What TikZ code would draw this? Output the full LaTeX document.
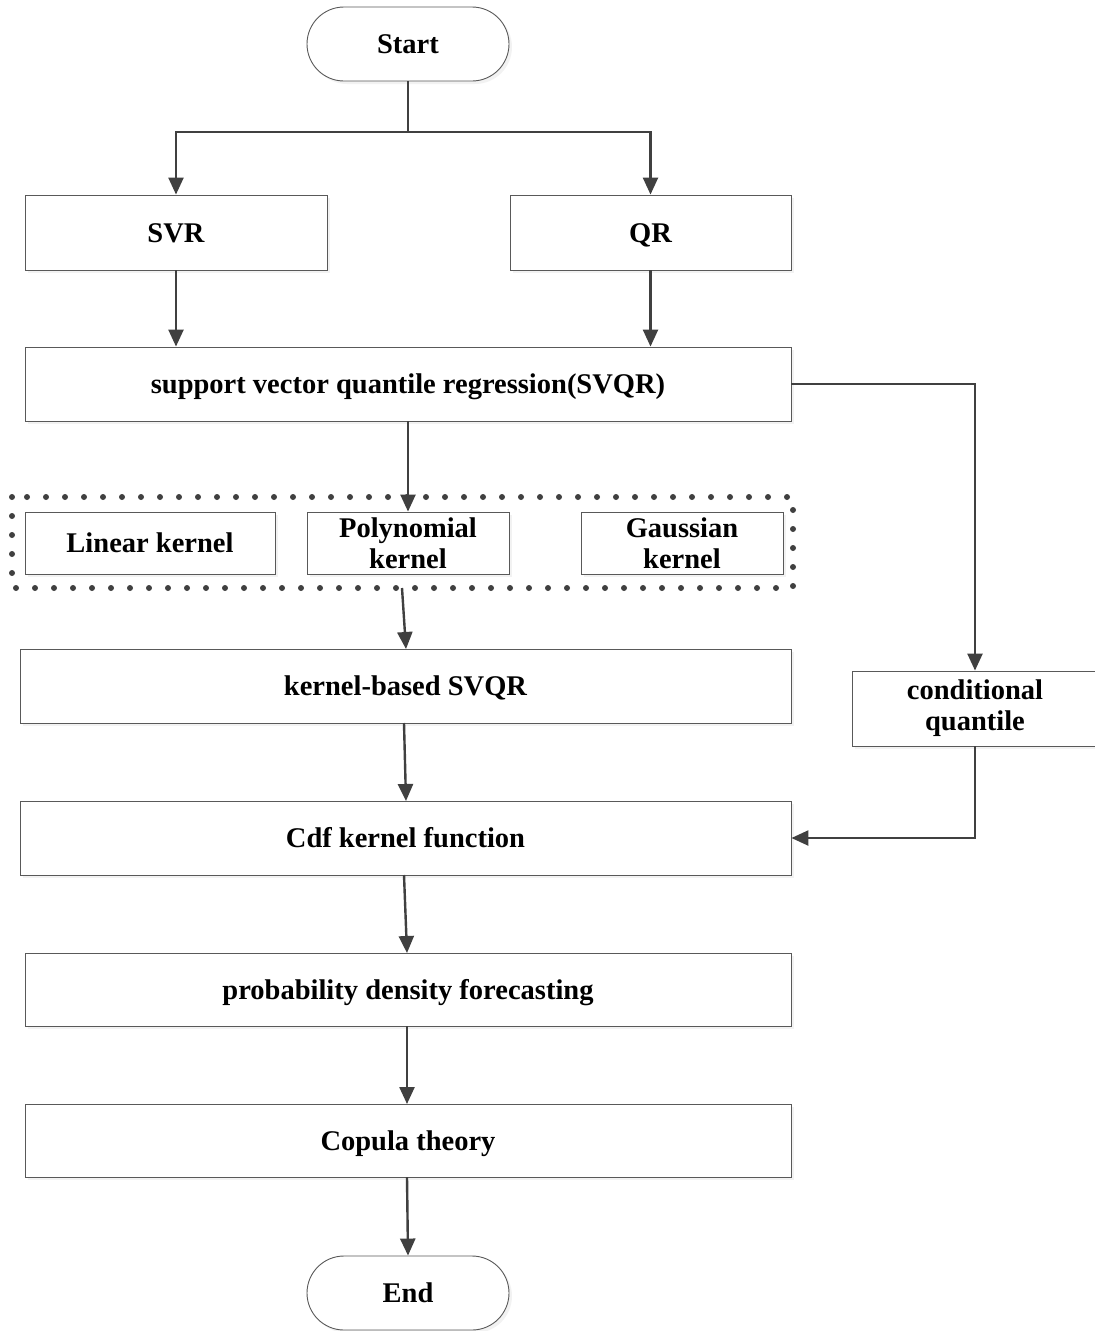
\documentclass[tikz,border=0pt]{standalone}
\usepackage{fontspec}
\setmainfont{Liberation Serif}
\usetikzlibrary{arrows.meta,shadows}
\begin{document}
\begin{tikzpicture}[x=1pt,y=-1pt,
  box/.style={draw=black!65,line width=0.9pt,fill=white,inner sep=0pt,align=center,
    font=\fontsize{28.5}{31}\selectfont\bfseries,
    drop shadow={opacity=0.12,shadow xshift=3pt,shadow yshift=-3pt,fill=black!40}},
  one/.style={text height=19pt,text depth=0pt},
  pill/.style={box,one,rounded corners=37pt},
  conn/.style={draw=black!75,line width=2.4pt},
  arr/.style={conn,-{Triangle[length=17pt,width=15pt]}},
  dotbox/.style={draw=black!75,line width=6pt,line cap=round,dash pattern=on 0pt off 19pt}]
\useasboundingbox (0,0) rectangle (1095,1331);
\fill[white] (0,0) rectangle (1095,1331);
% nodes
\node[pill,minimum width=202pt,minimum height=74pt] (start) at (408,44) {Start};
\node[box,one,minimum width=302pt,minimum height=75pt] (svr) at (176,232.5) {SVR};
\node[box,one,minimum width=281pt,minimum height=75pt] (qr) at (650.5,232.5) {QR};
\node[box,one,minimum width=766pt,minimum height=74pt] (svqr) at (408,384) {support vector quantile regression(SVQR)};
\draw[dotbox] (12,497) rectangle (793,588);
\coordinate (dotbot) at (402,588);
\node[box,one,minimum width=250pt,minimum height=62pt] (lin) at (150,543) {Linear kernel};
\node[box,minimum width=202pt,minimum height=62pt] (poly) at (408,543) {Polynomial\\kernel};
\node[box,minimum width=202pt,minimum height=62pt] (gau) at (682,543) {Gaussian\\kernel};
\node[box,one,minimum width=771pt,minimum height=74pt] (kb) at (405.5,686) {kernel-based SVQR};
\node[box,minimum width=246pt,minimum height=75pt] (cq) at (975,708.5) {conditional\\quantile};
\node[box,one,minimum width=771pt,minimum height=74pt] (cdf) at (405.5,838) {Cdf kernel function};
\node[box,one,minimum width=766pt,minimum height=73pt] (pdf) at (408,989.5) {probability density forecasting};
\node[box,one,minimum width=766pt,minimum height=73pt] (cop) at (408,1140.5) {Copula theory};
\node[pill,minimum width=202pt,minimum height=74pt] (end) at (408,1293) {End};
% connectors
\coordinate (sp) at (408,132);
\draw[conn] (start.south) -- (sp);
\draw[arr] (sp) -| (svr.north);
\draw[arr] (sp) -| (qr.north);
\draw[arr] (svr.south) -- (svr.south |- svqr.north);
\draw[arr] (qr.south) -- (qr.south |- svqr.north);
\draw[arr] (svqr.south) -- (poly.north);
\draw[arr] (svqr.east) -| (cq.north);
\draw[arr] (dotbot) -- (406,649);
\draw[arr] (404,723) -- (406,801);
\draw[arr] (404,875) -- (407,953);
\draw[arr] (407,1026) -- (407,1104);
\draw[arr] (407,1177) -- (end.north);
\draw[arr] (cq.south) |- (cdf.east);
\end{tikzpicture}
\end{document}
